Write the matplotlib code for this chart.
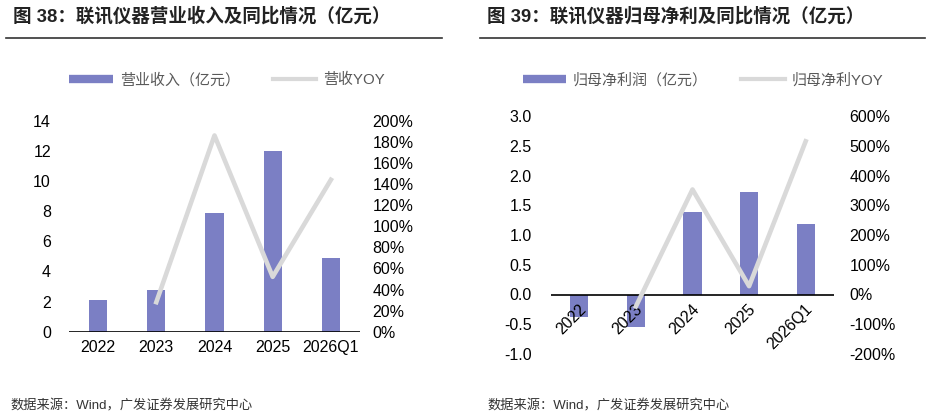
# 联讯仪器 营业收入 / 归母净利润 及同比

import numpy as np
import matplotlib.pyplot as plt
from matplotlib.lines import Line2D
from matplotlib.ticker import FuncFormatter

plt.rcParams['font.family'] = ['Liberation Sans', 'Noto Sans CJK SC']

# 数据
years = ['2022', '2023', '2024', '2025', '2026Q1']
revenue = [2.1, 2.75, 7.9, 12.0, 4.87]          # 营业收入（亿元）
revenue_yoy = [np.nan, 28, 186, 52, 144]         # 营收YOY（%）
net_profit = [-0.37, -0.55, 1.39, 1.73, 1.18]    # 归母净利润（亿元）
profit_yoy = [np.nan, -40, 353, 28, 515]         # 归母净利YOY（%）

bar_color = '#7B7FC4'
line_color = '#D9D9D9'
text_gray = '#595959'
cjk = ['Liberation Sans', 'Noto Sans CJK SC']
tick_fs = 11.5

fig = plt.figure(figsize=(9.33, 4.17), dpi=100)

# 标题与分隔线
fig.text(13 / 933, 1 - 16 / 417, '图 38：联讯仪器营业收入及同比情况（亿元）',
         fontsize=13.3, fontweight='bold', family=cjk, va='center', color='#222222')
fig.text(487 / 933, 1 - 16 / 417, '图 39：联讯仪器归母净利及同比情况（亿元）',
         fontsize=13.3, fontweight='bold', family=cjk, va='center', color='#222222')
fig.add_artist(Line2D([6 / 933, 442 / 933], [1 - 38 / 417] * 2, color='#333333', lw=1.2))
fig.add_artist(Line2D([480 / 933, 925 / 933], [1 - 38 / 417] * 2, color='#333333', lw=1.2))

# 数据来源
for xs in (10 / 933, 487 / 933):
    fig.text(xs, 1 - 406 / 417, '数据来源：Wind，广发证券发展研究中心',
             fontsize=9.5, family=cjk, va='center', color='#333333')

pct = FuncFormatter(lambda v, p: f'{v:.0f}%')
x = np.arange(len(years))


def style(ax, ax2):
    for a in (ax, ax2):
        for s in ('top', 'right', 'left', 'bottom'):
            a.spines[s].set_visible(False)
        a.tick_params(length=0, labelsize=tick_fs, colors='black')
    ax2.yaxis.set_major_formatter(pct)
    ax.set_xlim(-0.5, len(years) - 0.5)


# 左图：营业收入
ax1 = fig.add_axes([69 / 933, (417 - 331.7) / 417, 291 / 933, 211 / 417])
ax1b = ax1.twinx()
ax1.bar(x, revenue, width=0.31, color=bar_color, zorder=2)
ax1b.plot(x, revenue_yoy, color=line_color, lw=3.3, zorder=3)
ax1.set_ylim(0, 14)
ax1.set_yticks(np.arange(0, 15, 2))
ax1b.set_ylim(0, 200)
ax1b.set_yticks(np.arange(0, 201, 20))
style(ax1, ax1b)
ax1.axhline(0, color='black', lw=1.2, zorder=4)
ax1.set_xticks(x)
ax1.set_xticklabels(years)
ax1.tick_params(axis='x', pad=6)
ax1.tick_params(axis='y', pad=13)
ax1b.tick_params(axis='y', pad=9)

h1 = [Line2D([0], [0], color=bar_color, lw=6, solid_capstyle='butt'),
      Line2D([0], [0], color=line_color, lw=3)]
fig.legend(h1, ['营业收入（亿元）', '营收YOY'], loc='center',
           bbox_to_anchor=(227 / 933, 1 - 80 / 417), ncol=2, frameon=False,
           prop={'family': cjk, 'size': 10.8}, labelcolor=text_gray,
           handlelength=2.9, handletextpad=0.45, columnspacing=2.2)

# 右图：归母净利润
ax2 = fig.add_axes([551 / 933, (417 - 354) / 417, 283 / 933, 238 / 417])
ax2b = ax2.twinx()
ax2.bar(x, net_profit, width=0.32, color=bar_color, zorder=2)
ax2b.plot(x, profit_yoy, color=line_color, lw=3.3, zorder=3)
ax2.set_ylim(-1, 3)
ax2.set_yticks(np.arange(-1, 3.01, 0.5))
ax2.yaxis.set_major_formatter(FuncFormatter(lambda v, p: f'{v:.1f}'))
ax2b.set_ylim(-200, 600)
ax2b.set_yticks(np.arange(-200, 601, 100))
style(ax2, ax2b)
ax2.axhline(0, color='black', lw=1.2, zorder=4)
ax2.set_xticks(x)
ax2.set_xticklabels([])
for xi, lab in zip(x, years):
    ax2.text(xi - 0.02, -0.12, lab, rotation=45, ha='right', va='top',
             rotation_mode='anchor', fontsize=tick_fs, zorder=5)
ax2.tick_params(axis='y', pad=14)
ax2b.tick_params(axis='y', pad=11)

h2 = [Line2D([0], [0], color=bar_color, lw=6, solid_capstyle='butt'),
      Line2D([0], [0], color=line_color, lw=3)]
fig.legend(h2, ['归母净利润（亿元）', '归母净利YOY'], loc='center',
           bbox_to_anchor=(703 / 933, 1 - 80 / 417), ncol=2, frameon=False,
           prop={'family': cjk, 'size': 10.8}, labelcolor=text_gray,
           handlelength=2.9, handletextpad=0.45, columnspacing=2.2)

fig.savefig('out.png', dpi=100)
